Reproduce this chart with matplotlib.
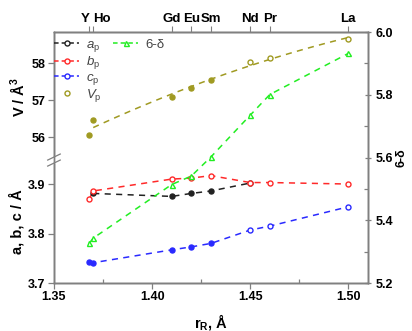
import numpy as np
import matplotlib
matplotlib.use("Agg")
import matplotlib.pyplot as plt
from matplotlib.lines import Line2D
from matplotlib.ticker import MultipleLocator

plt.rcParams['font.family'] = ['Liberation Sans', 'DejaVu Sans']
plt.rcParams['mathtext.fontset'] = 'custom'
plt.rcParams['mathtext.rm'] = 'Liberation Sans'
plt.rcParams['mathtext.it'] = 'Liberation Sans:italic'
plt.rcParams['mathtext.bf'] = 'Liberation Sans:bold'

# rare-earth cations and their radii
elements = ['Y', 'Ho', 'Gd', 'Eu', 'Sm', 'Nd', 'Pr', 'La']
r_R = np.array([1.368, 1.370, 1.410, 1.420, 1.430, 1.450, 1.460, 1.500])

# pseudo-cubic lattice parameters (A); a_p has no Y point
a_r = np.array([1.370, 1.410, 1.420, 1.430, 1.450])
a_p = np.array([3.881, 3.875, 3.881, 3.886, 3.902])
b_p = np.array([3.870, 3.886, 3.910, 3.912, 3.917, 3.903, 3.903, 3.900])
c_p = np.array([3.742, 3.741, 3.767, 3.773, 3.780, 3.807, 3.815, 3.854])
# cell volume (A^3) and oxygen content
V_p = np.array([56.05, 56.46, 57.09, 57.33, 57.54, 58.02, 58.14, 58.66])
ox = np.array([5.327, 5.343, 5.514, 5.541, 5.602, 5.735, 5.801, 5.932])

black, red, blue = '#222222', '#ff2a2a', '#2a2aff'
olive, green = '#a09a22', '#22ee22'
gray = '#808080'

fig = plt.figure(figsize=(4.12, 3.31), dpi=100)
ax = fig.add_axes([0.131, 0.145, 0.762, 0.758])
axV = ax.twinx()
axO = ax.twinx()
axV.set_zorder(ax.get_zorder() + 1)
axO.set_zorder(ax.get_zorder() + 2)

fs = 9
ms = 3.6
dash = (0, (4, 3.5))


def series(axis, x, y, color, marker='o', nfill=0, line=True):
    if line:
        axis.plot(x, y, ls=dash, color=color, lw=1.1, zorder=2)
    axis.plot(x[:nfill], y[:nfill], ls='none', marker=marker, ms=ms,
              mfc=color, mec=color, mew=1.0, zorder=3)
    axis.plot(x[nfill:], y[nfill:], ls='none', marker=marker, ms=ms,
              mfc='white', mec=color, mew=1.0, zorder=3)


series(ax, a_r, a_p, black, nfill=4)
series(ax, r_R, b_p, red, nfill=0)
series(ax, r_R, c_p, blue, nfill=5)
series(axO, r_R, ox, green, marker='^', nfill=0)

# volume: quadratic trend line plus points
coef = np.polyfit(r_R, V_p, 2)
rr = np.linspace(r_R[0] + 0.002, r_R[-1], 50)
axV.plot(rr, np.polyval(coef, rr), ls=dash, color=olive, lw=1.1)
series(axV, r_R, V_p, olive, nfill=5, line=False)

ax.set_xlim(1.35, 1.51)
ax.set_ylim(3.7, 4.207)
axV.set_ylim(52.05, 58.84)
axO.set_ylim(5.2, 6.0)

ax.set_xticks([1.35, 1.40, 1.45, 1.50])
ax.set_xticklabels(['1.35', '1.40', '1.45', '1.50'], fontsize=fs, fontweight='bold')
ax.xaxis.set_minor_locator(MultipleLocator(0.025))
ax.set_yticks([3.7, 3.8, 3.9])
ax.set_yticklabels(['3.7', '3.8', '3.9'], fontsize=fs, fontweight='bold')

axV.yaxis.tick_left()
axV.set_yticks([56, 57, 58])
axV.set_yticklabels(['56', '57', '58'], fontsize=fs, fontweight='bold')

axO.set_yticks([5.2, 5.4, 5.6, 5.8, 6.0])
axO.set_yticklabels(['5.2', '5.4', '5.6', '5.8', '6.0'], fontsize=fs, fontweight='bold')
axO.yaxis.set_minor_locator(MultipleLocator(0.1))

for a in (ax, axV, axO):
    for s in a.spines.values():
        s.set_color(gray)
        s.set_linewidth(1.0)
    a.tick_params(which='both', color=gray, labelcolor='black', width=0.9)
ax.tick_params(axis='x', which='major', direction='out', length=4, pad=2)
ax.tick_params(axis='x', which='minor', direction='in', length=3)
ax.tick_params(axis='y', direction='out', length=4, pad=2)
axV.tick_params(axis='y', direction='out', length=4, pad=2)
axO.tick_params(axis='y', which='major', direction='inout', length=5, pad=3)
axO.tick_params(axis='y', which='minor', direction='in', length=3)

# top axis with element labels
top = ax.secondary_xaxis('top')
top.set_xticks(r_R)
top.set_xticklabels(elements, fontsize=9.5, fontweight='bold')
top.tick_params(direction='out', length=4, color=gray, pad=1)
top.spines['top'].set_color(gray)
labs = top.get_xticklabels()
labs[0].set_horizontalalignment('right')
labs[1].set_horizontalalignment('left')

# axis break on the left spine
yb = 0.49
for dy in (-0.012, 0.012):
    ax.plot([-0.02, 0.02], [yb + dy - 0.012, yb + dy + 0.012],
            transform=ax.transAxes, color=gray, lw=0.9, clip_on=False, zorder=10)
ax.plot([0, 0], [yb - 0.008, yb + 0.008], transform=ax.transAxes,
        color='white', lw=2.0, clip_on=False, zorder=9)

fig.text(0.043, 0.707, 'V / Å$^\\mathbf{3}$', rotation=90, fontsize=10.5,
         fontweight='bold', ha='center', va='center')
fig.text(0.040, 0.33, 'a, b, c / Å', rotation=90, fontsize=10.5,
         fontweight='bold', ha='center', va='center')
fig.text(0.975, 0.525, '6-δ', rotation=90, fontsize=9, fontweight='bold',
         ha='center', va='center')
ax.set_xlabel('r$_\\mathbf{R}$, Å', fontsize=10.5, fontweight='bold', labelpad=6)


def handle(color, marker='o', line=True):
    return Line2D([], [], color=color, ls=(0, (3, 2)) if line else 'none',
                  lw=1.1, marker=marker, ms=ms, mfc='white', mec=color, mew=1.0)


blank = Line2D([], [], ls='none')
handles = [handle(black), handle(red), handle(blue), handle(olive, line=False),
           handle(green, '^'), blank, blank, blank]
labels = ['$a_\\mathrm{p}$', '$b_\\mathrm{p}$', '$c_\\mathrm{p}$',
          '$V_\\mathrm{p}$', '6-δ', '', '', '']
leg = axO.legend(handles, labels, ncol=2, loc='upper left', frameon=False,
                 fontsize=9.5, handlelength=1.9, handletextpad=0.5,
                 columnspacing=0.9, labelspacing=0.02, borderaxespad=0.1,
                 bbox_to_anchor=(-0.02, 1.0), labelcolor='#444444')

fig.savefig('out.png', dpi=100)
